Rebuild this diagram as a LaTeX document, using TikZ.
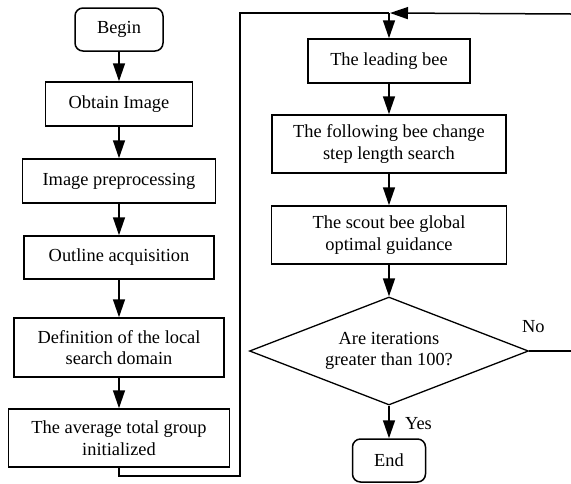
\documentclass[tikz,border=0pt]{standalone}
\usepackage{fontspec}
\setmainfont{Liberation Serif}
\usepackage{tikz}
\usetikzlibrary{positioning, arrows.meta, calc, shapes.geometric}
\tikzset{
  flowbox/.style={draw, line width=1.5pt, align=center, inner sep=0pt},
  termbox/.style={flowbox, rounded corners=8pt},
  flowarrow/.style={line width=1.5pt, -{Triangle[length=18pt, width=12pt]}},
  flowline/.style={line width=1.5pt}
}

\begin{document}
\begin{tikzpicture}[x=1pt, y=-1pt, font=\fontsize{18.4}{21.5}\selectfont]
  \useasboundingbox (0,0) rectangle (571,483);
  % left column
  \node[termbox, minimum width=88pt, minimum height=43pt] (begin) at (119,29.5) {Begin};
  \node[flowbox, minimum width=147pt, minimum height=44pt] (obtain) at (119,104) {Obtain Image};
  \node[flowbox, minimum width=193pt, minimum height=44pt] (prep) at (119,181) {Image preprocessing};
  \node[flowbox, minimum width=190pt, minimum height=43pt] (outline) at (119,257.5) {Outline acquisition};
  \node[flowbox, minimum width=210pt, minimum height=59pt] (domain) at (119,347.5) {Definition of the local\\search domain};
  \node[flowbox, minimum width=221pt, minimum height=58pt] (init) at (119,438) {The average total group\\initialized};
  % right column
  \node[flowbox, minimum width=162pt, minimum height=44pt] (leader) at (389,61) {The leading bee};
  \node[flowbox, minimum width=234pt, minimum height=58pt] (follower) at (389,144) {The following bee change\\step length search};
  \node[flowbox, minimum width=235pt, minimum height=58pt] (scout) at (389,235) {The scout bee global\\optimal guidance};
  \node[draw, diamond, aspect=2.58, line width=1.3pt, align=center, inner sep=0pt,
        minimum width=279pt, minimum height=108pt] (check) at (389,351) {Are iterations\\greater than 100?};
  \node[termbox, minimum width=73pt, minimum height=43pt] (finish) at (389,460.5) {End};
  \coordinate (join) at (389,13);
  \coordinate (noend) at (571,351);
  \coordinate (backin) at (571,14);

  \draw[flowarrow] (begin) -- (obtain);
  \draw[flowarrow] (obtain) -- (prep);
  \draw[flowarrow] (prep) -- (outline);
  \draw[flowarrow] (outline) -- (domain);
  \draw[flowarrow] (domain) -- (init);
  \draw[flowline] (init.south) |- (240,476) |- (join);
  \draw[flowarrow] (join) -- (leader);
  \draw[flowarrow] (leader) -- (follower);
  \draw[flowarrow] (follower) -- (scout);
  \draw[flowarrow] (scout) -- (check);
  \draw[flowarrow] (check) -- (finish) node[pos=0.55, right=12pt] {Yes};
  \draw[flowline] (check.east) -- (noend) node[pos=0.1, above=14pt] {No};
  \draw[flowarrow] (backin) -- ([xshift=1pt]join);
\end{tikzpicture}
\end{document}
